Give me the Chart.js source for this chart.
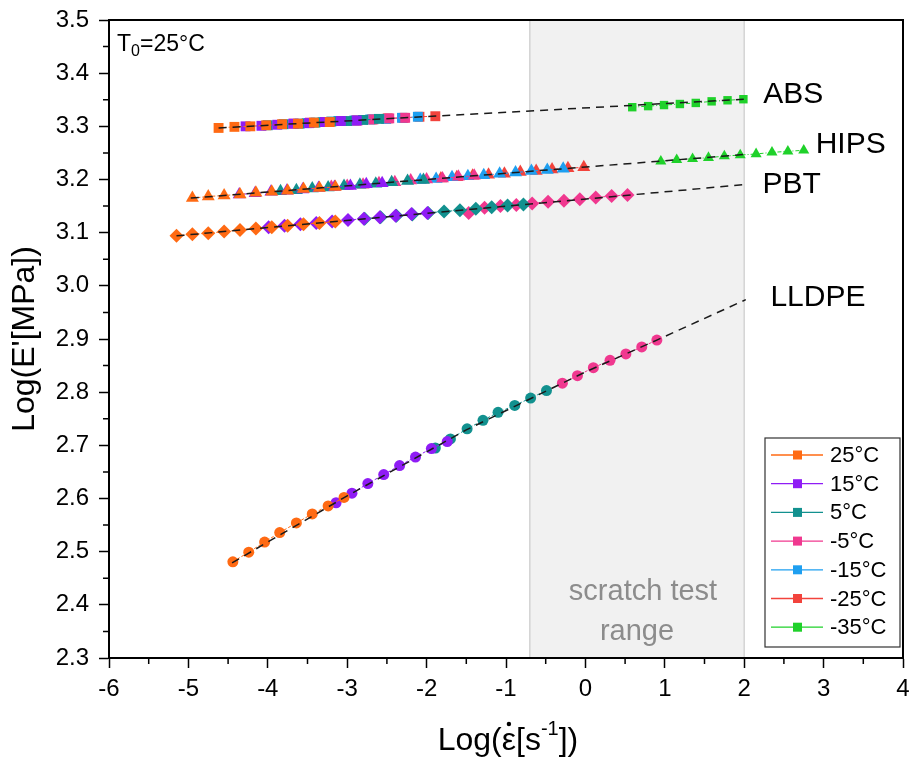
<!DOCTYPE html>
<html>
<head>
<meta charset="utf-8">
<script src="https://cdn.jsdelivr.net/npm/chart.js@4.4.0/dist/chart.umd.min.js"></script>
<style>
  html, body { margin: 0; padding: 0; background: #fff; }
</style>
</head>
<body>
<canvas id="chart" width="914" height="765"></canvas>
<script>
// temperatures (legend) and their colours
const temps = ['25°C', '15°C', '5°C', '-5°C', '-15°C', '-25°C', '-35°C'];
const tempColors = ['#ff6a13', '#8f1cf5', '#12918f', '#f0388f', '#1e9ff0', '#f2433c', '#1fd12a'];

// ABS (squares), one row per temperature
const absX = [
  [-4.62, -4.42, -4.22, -4.02, -3.82, -3.62, -3.42, -3.22],
  [-4.28, -4.08, -3.88, -3.68, -3.48, -3.28, -3.08, -2.88],
  [-4.00, -3.80, -3.60, -3.40, -3.20, -3.00, -2.80, -2.60],
  [-3.67, -3.47, -3.27, -3.07, -2.87, -2.67, -2.47, -2.27],
  [-3.51, -3.31, -3.11, -2.91, -2.71, -2.51, -2.31, -2.11],
  [-3.29, -3.09, -2.89, -2.69, -2.49, -2.29, -2.09, -1.89],
  [0.59, 0.79, 0.99, 1.19, 1.39, 1.59, 1.79, 1.99]
];
const absY = [
  [3.297, 3.299, 3.300, 3.302, 3.304, 3.305, 3.307, 3.308],
  [3.300, 3.301, 3.303, 3.305, 3.306, 3.308, 3.310, 3.311],
  [3.302, 3.304, 3.305, 3.307, 3.309, 3.310, 3.312, 3.314],
  [3.305, 3.307, 3.308, 3.310, 3.311, 3.313, 3.315, 3.316],
  [3.306, 3.308, 3.310, 3.311, 3.313, 3.314, 3.316, 3.318],
  [3.308, 3.310, 3.311, 3.313, 3.315, 3.316, 3.318, 3.319],
  [3.336, 3.338, 3.340, 3.342, 3.344, 3.347, 3.349, 3.351]
];

// HIPS (triangles)
const hipsX = [
  [-4.95, -4.75, -4.55, -4.35, -4.15, -3.95, -3.75, -3.55, -3.35, -3.15],
  [-4.36, -4.16, -3.96, -3.76, -3.56, -3.36, -3.16, -2.96, -2.76, -2.56],
  [-3.84, -3.64, -3.44, -3.24, -3.04, -2.84, -2.64, -2.44, -2.24, -2.04],
  [-3.20, -3.00, -2.80, -2.60, -2.40, -2.20, -2.00, -1.80, -1.60, -1.40],
  [-2.08, -1.88, -1.68, -1.48, -1.28, -1.08, -0.88, -0.68, -0.48, -0.28],
  [-1.82, -1.62, -1.42, -1.22, -1.02, -0.82, -0.62, -0.42, -0.22, -0.02],
  [0.95, 1.15, 1.35, 1.55, 1.75, 1.95, 2.15, 2.35, 2.55, 2.75]
];
const hipsY = [
  [3.165, 3.168, 3.170, 3.172, 3.175, 3.177, 3.179, 3.182, 3.184, 3.186],
  [3.172, 3.174, 3.177, 3.179, 3.181, 3.184, 3.186, 3.188, 3.191, 3.193],
  [3.178, 3.180, 3.183, 3.185, 3.188, 3.190, 3.192, 3.195, 3.197, 3.199],
  [3.186, 3.188, 3.190, 3.193, 3.195, 3.198, 3.200, 3.202, 3.205, 3.207],
  [3.199, 3.201, 3.204, 3.206, 3.208, 3.211, 3.213, 3.216, 3.218, 3.220],
  [3.202, 3.204, 3.207, 3.209, 3.211, 3.214, 3.216, 3.219, 3.221, 3.223],
  [3.234, 3.237, 3.239, 3.241, 3.244, 3.246, 3.248, 3.251, 3.253, 3.255]
];

// PBT (diamonds), 25..-5°C only
const pbtX = [
  [-5.15, -4.95, -4.75, -4.55, -4.35, -4.15, -3.95, -3.75, -3.55, -3.35, -3.15],
  [-3.99, -3.79, -3.59, -3.39, -3.19, -2.99, -2.79, -2.59, -2.39, -2.19, -1.99],
  [-2.78, -2.58, -2.38, -2.18, -1.98, -1.78, -1.58, -1.38, -1.18, -0.98, -0.78],
  [-1.47, -1.27, -1.07, -0.87, -0.67, -0.47, -0.27, -0.07, 0.13, 0.33, 0.53]
];
const pbtY = [
  [3.094, 3.097, 3.099, 3.102, 3.105, 3.108, 3.110, 3.113, 3.116, 3.118, 3.121],
  [3.110, 3.113, 3.116, 3.118, 3.121, 3.124, 3.126, 3.129, 3.132, 3.135, 3.137],
  [3.126, 3.129, 3.132, 3.134, 3.137, 3.140, 3.142, 3.145, 3.148, 3.151, 3.153],
  [3.137, 3.147, 3.150, 3.152, 3.155, 3.158, 3.160, 3.163, 3.166, 3.169, 3.171]
];

// LLDPE (circles), 25..-5°C only
const lldpeX = [
  [-4.44, -4.24, -4.04, -3.85, -3.64, -3.44, -3.24, -3.04],
  [-3.14, -2.94, -2.74, -2.54, -2.34, -2.14, -1.94, -1.74],
  [-1.89, -1.70, -1.49, -1.29, -1.10, -0.89, -0.69, -0.49],
  [-0.29, -0.10, 0.10, 0.31, 0.51, 0.71, 0.90]
];
const lldpeY = [
  [2.481, 2.499, 2.518, 2.536, 2.554, 2.571, 2.586, 2.602],
  [2.592, 2.610, 2.628, 2.645, 2.662, 2.678, 2.694, 2.707],
  [2.695, 2.712, 2.731, 2.747, 2.762, 2.775, 2.789, 2.803],
  [2.817, 2.831, 2.846, 2.860, 2.872, 2.885, 2.898]
];

// master-curve fits (black dashed)
const absFitX = [-4.62, 2.01];
const absFitY = [3.297, 3.351];
const hipsFitX = [-4.97, 2.0];
const hipsFitY = [3.165, 3.247];
const pbtFitX = [-5.15, 1.98];
const pbtFitY = [3.094, 3.190];
const lldpeFitX = [-4.45, -3.0, -1.5, 0, 0.9, 2.02];
const lldpeFitY = [2.479, 2.605, 2.729, 2.838, 2.898, 2.974];

const scratchRange = [-0.7, 2.0];
const polymerNames = ['ABS', 'HIPS', 'PBT', 'LLDPE'];

const FONT = '"Liberation Sans", Arial, sans-serif';

function pts(xs, ys) {
  return xs.map((x, i) => ({ x: x, y: ys[i] }));
}

const polymers = [
  { xs: absX, ys: absY, shape: 'rect', r: 7, fx: absFitX, fy: absFitY },
  { xs: hipsX, ys: hipsY, shape: 'triangle', r: 7.5, fx: hipsFitX, fy: hipsFitY },
  { xs: pbtX, ys: pbtY, shape: 'rectRot', r: 7, fx: pbtFitX, fy: pbtFitY },
  { xs: lldpeX, ys: lldpeY, shape: 'circle', r: 5.5, fx: lldpeFitX, fy: lldpeFitY }
];

const datasets = [];
polymers.forEach((p, k) => {
  datasets.push({
    label: polymerNames[k] + ' fit',
    data: pts(p.fx, p.fy),
    borderColor: '#1a1a1a',
    borderWidth: 1.5,
    borderDash: [8, 6],
    pointRadius: 0,
    showLine: true,
    order: 0
  });
});
polymers.forEach((p, k) => {
  p.xs.forEach((xs, t) => {
    datasets.push({
      label: polymerNames[k] + ' ' + temps[t],
      data: pts(xs, p.ys[t]),
      showLine: true,
      borderColor: tempColors[t],
      borderWidth: 1,
      borderDash: t === 6 ? [4, 2, 1, 2] : [3, 2],
      backgroundColor: tempColors[t],
      pointBackgroundColor: tempColors[t],
      pointBorderWidth: 0,
      pointStyle: p.shape,
      pointRadius: t === 6 ? p.r * 0.85 : p.r,
      order: 1
    });
  });
});

const deco = {
  id: 'deco',
  beforeDatasetsDraw(chart) {
    const { ctx, chartArea: a, scales: { x, y } } = chart;
    const x0 = x.getPixelForValue(scratchRange[0]);
    const x1 = x.getPixelForValue(scratchRange[1]);
    ctx.save();
    ctx.fillStyle = '#f1f1f1';
    ctx.fillRect(x0, a.top, x1 - x0, a.bottom - a.top);
    ctx.strokeStyle = '#d4d4d4';
    ctx.lineWidth = 1.5;
    ctx.beginPath();
    ctx.moveTo(x0, a.top); ctx.lineTo(x0, a.bottom);
    ctx.moveTo(x1, a.top); ctx.lineTo(x1, a.bottom);
    ctx.stroke();
    ctx.fillStyle = '#8c8c8c';
    ctx.font = '29px ' + FONT;
    ctx.textAlign = 'center';
    ctx.textBaseline = 'middle';
    const xm = (x0 + x1) / 2;
    ctx.fillText('scratch test', xm + 6, y.getPixelForValue(2.424));
    ctx.fillText('range', xm, y.getPixelForValue(2.349));
    ctx.restore();
  },
  afterDatasetsDraw(chart) {
    const { ctx, chartArea: a, scales: { x, y } } = chart;
    ctx.save();
    // frame
    ctx.strokeStyle = '#000';
    ctx.lineWidth = 2;
    ctx.strokeRect(a.left, a.top, a.right - a.left, a.bottom - a.top);
    // minor ticks
    ctx.lineWidth = 1.5;
    ctx.beginPath();
    for (let v = -5.5; v < 4; v += 1) {
      const px = x.getPixelForValue(v);
      ctx.moveTo(px, a.bottom); ctx.lineTo(px, a.bottom + 6);
    }
    for (let v = 2.35; v < 3.5; v += 0.1) {
      const py = y.getPixelForValue(v);
      ctx.moveTo(a.left, py); ctx.lineTo(a.left - 6, py);
    }
    ctx.stroke();

    // polymer labels
    ctx.fillStyle = '#000';
    ctx.font = '30px ' + FONT;
    ctx.textBaseline = 'middle';
    ctx.textAlign = 'left';
    ctx.fillText('ABS', x.getPixelForValue(2.24), y.getPixelForValue(3.359));
    ctx.fillText('HIPS', x.getPixelForValue(2.9), y.getPixelForValue(3.265));
    ctx.fillText('PBT', x.getPixelForValue(2.23), y.getPixelForValue(3.19));
    ctx.fillText('LLDPE', x.getPixelForValue(2.33), y.getPixelForValue(2.977));

    // T0 = 25°C
    ctx.font = '23px ' + FONT;
    const tx = a.left + 8, ty = a.top + 25;
    ctx.fillText('T', tx, ty);
    const tw = ctx.measureText('T').width;
    ctx.font = '16px ' + FONT;
    ctx.fillText('0', tx + tw, ty + 7);
    const zw = ctx.measureText('0').width;
    ctx.font = '23px ' + FONT;
    ctx.fillText('=25°C', tx + tw + zw, ty);

    // legend
    const lx = a.right - 138, ly = a.bottom - 220, lw = 135, lh = 209;
    ctx.fillStyle = '#fff';
    ctx.fillRect(lx, ly, lw, lh);
    ctx.strokeStyle = '#333';
    ctx.lineWidth = 1.2;
    ctx.strokeRect(lx, ly, lw, lh);
    ctx.font = '22px ' + FONT;
    temps.forEach((t, i) => {
      const ry = ly + 17 + i * 28.7;
      ctx.strokeStyle = tempColors[i];
      ctx.lineWidth = 1.3;
      ctx.beginPath();
      ctx.moveTo(lx + 6, ry); ctx.lineTo(lx + 58, ry);
      ctx.stroke();
      ctx.fillStyle = tempColors[i];
      ctx.fillRect(lx + 28, ry - 4.5, 9, 9);
      ctx.fillStyle = '#000';
      ctx.fillText(t, lx + 65, ry + 1);
    });

    // x axis title: Log(ε̇[s^-1])
    const cx = (a.left + a.right) / 2 + 2, cy = chart.height - 24;
    const big = '32px ' + FONT, small = '20px ' + FONT;
    ctx.font = big;
    const w1 = ctx.measureText('Log(ε').width;
    const w2 = ctx.measureText('[s').width;
    const w4 = ctx.measureText('])').width;
    ctx.font = small;
    const w3 = ctx.measureText('-1').width;
    let sx = cx - (w1 + w2 + w3 + w4) / 2;
    ctx.fillStyle = '#000';
    ctx.font = big;
    ctx.fillText('Log(ε', sx, cy);
    const we = ctx.measureText('ε').width;
    ctx.beginPath();
    ctx.arc(sx + w1 - we / 2, cy - 17, 2.2, 0, Math.PI * 2);
    ctx.fill();
    sx += w1;
    ctx.fillText('[s', sx, cy);
    sx += w2;
    ctx.font = small;
    ctx.fillText('-1', sx, cy - 12);
    sx += w3;
    ctx.font = big;
    ctx.fillText('])', sx, cy);
    ctx.restore();
  }
};

new Chart(document.getElementById('chart'), {
  type: 'scatter',
  data: { datasets: datasets },
  options: {
    responsive: false,
    animation: false,
    layout: { padding: { top: 20, right: 11, left: 0, bottom: 0 } },
    plugins: { legend: { display: false }, tooltip: { enabled: false } },
    scales: {
      x: {
        type: 'linear',
        min: -6, max: 4,
        afterFit(s) { s.height = 107; s.paddingLeft = 0; s.paddingRight = 0; },
        ticks: { stepSize: 1, color: '#000', padding: 7, font: { size: 24, family: FONT } },
        grid: { drawOnChartArea: false, drawTicks: true, tickLength: 10, tickColor: '#000', tickWidth: 1.5 },
        border: { display: true, color: '#000', width: 2 },
        title: { display: false }
      },
      y: {
        type: 'linear',
        min: 2.3, max: 3.5,
        afterFit(s) { s.width = 109; s.paddingTop = 0; s.paddingBottom = 0; },
        ticks: { stepSize: 0.1, color: '#000', padding: 10, font: { size: 24, family: FONT },
          callback: v => v.toFixed(1) },
        grid: { drawOnChartArea: false, drawTicks: true, tickLength: 10, tickColor: '#000', tickWidth: 1.5 },
        border: { display: true, color: '#000', width: 2 },
        title: { display: true, text: "Log(E'[MPa])", color: '#000', padding: { top: 6, bottom: 0 }, font: { size: 32, family: FONT } }
      }
    }
  },
  plugins: [deco]
});
</script>
</body>
</html>
